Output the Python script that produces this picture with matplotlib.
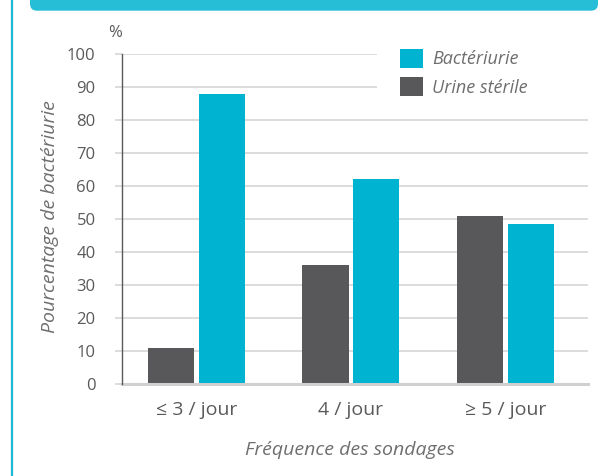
import matplotlib
matplotlib.use("Agg")
import matplotlib.pyplot as plt
import numpy as np
from matplotlib.patches import FancyBboxPatch, Rectangle, Patch
from matplotlib.lines import Line2D

categories = ["≤ 3 / jour", "4 / jour", "≥ 5 / jour"]
urine_sterile = [11, 36, 51]
bacteriurie = [88, 62, 48.5]
series_labels = ["Bactériurie", "Urine stérile"]
yticks = [0, 10, 20, 30, 40, 50, 60, 70, 80, 90, 100]

CYAN = "#00B3D1"
DARK = "#58585A"
TXT = "#6E6E6E"
TICK = "#5A5A5A"
GRID = "#D9D9D9"

plt.rcParams['font.family'] = ['Open Sans', 'DejaVu Sans']

W, H = 612, 476
fig = plt.figure(figsize=(W / 100, H / 100), dpi=100)
ax = fig.add_axes([122 / W, 1 - 384 / H, (588 - 122) / W, (384 - 54) / H])

x = np.arange(len(categories))
bw = 0.298
off = 0.165
ax.bar(x - off, urine_sterile, bw, color=DARK, zorder=2)
ax.bar(x + off, bacteriurie, bw, color=CYAN, zorder=2)

ax.set_xlim(-0.482, 2.534)
ax.set_ylim(0, 100)
ax.set_yticks(yticks)
ax.set_yticklabels([str(v) for v in yticks])
ax.set_xticks(x)
ax.set_xticklabels(categories)
ax.tick_params(axis='x', length=0, pad=12, labelsize=14, labelcolor=TICK)
ax.tick_params(axis='y', length=5, width=1.3, color=GRID, pad=14,
               labelsize=12, labelcolor=TICK)
ax.set_axisbelow(True)
ax.grid(axis='y', color=GRID, linewidth=1.3)
for s in ['top', 'right']:
    ax.spines[s].set_visible(False)
ax.spines['left'].set_color("#5A5A5A")
ax.spines['left'].set_linewidth(1.0)
ax.spines['left'].set_zorder(3)
ax.spines['bottom'].set_color("#D0D0D0")
ax.spines['bottom'].set_linewidth(2.2)

# white box behind legend hiding upper gridlines
ax.add_patch(Rectangle(((377 - 122) / 466, 0.86), 0.6, 0.2, transform=ax.transAxes,
                       facecolor="white", edgecolor="none", zorder=1, clip_on=False))

handles = [Patch(facecolor=CYAN, edgecolor='none'), Patch(facecolor=DARK, edgecolor='none')]
leg = fig.legend(handles, series_labels, loc='upper left',
                 bbox_to_anchor=(400 / W, 1 - 49 / H), frameon=False,
                 prop={'style': 'italic', 'size': 13}, labelcolor=TXT,
                 handlelength=1.27, handleheight=1.22, handletextpad=0.5,
                 labelspacing=0.5, borderpad=0, borderaxespad=0)

fig.text(115 / W, 1 - 33 / H, "%", ha='center', va='center', fontsize=12, color=TICK)
fig.text(50 / W, 1 - 217 / H, "Pourcentage de bactériurie", rotation=90,
         ha='center', va='center', fontsize=14, style='italic', color=TXT)
fig.text(350 / W, 1 - 450 / H, "Fréquence des sondages", ha='center', va='center',
         fontsize=14, style='italic', color=TXT)

# header band with rounded bottom corners
band = FancyBboxPatch((0.30, 4.653), 5.68, 0.4,
                      boxstyle="round,pad=0,rounding_size=0.07",
                      transform=fig.dpi_scale_trans, facecolor="#26BED7",
                      edgecolor='none', clip_on=False)
fig.patches.append(band)
fig.add_artist(Line2D([11.8 / W, 11.8 / W], [0, 1], transform=fig.transFigure,
                      color="#1DB8D8", linewidth=1.6))

fig.savefig("out.png", dpi=100)
